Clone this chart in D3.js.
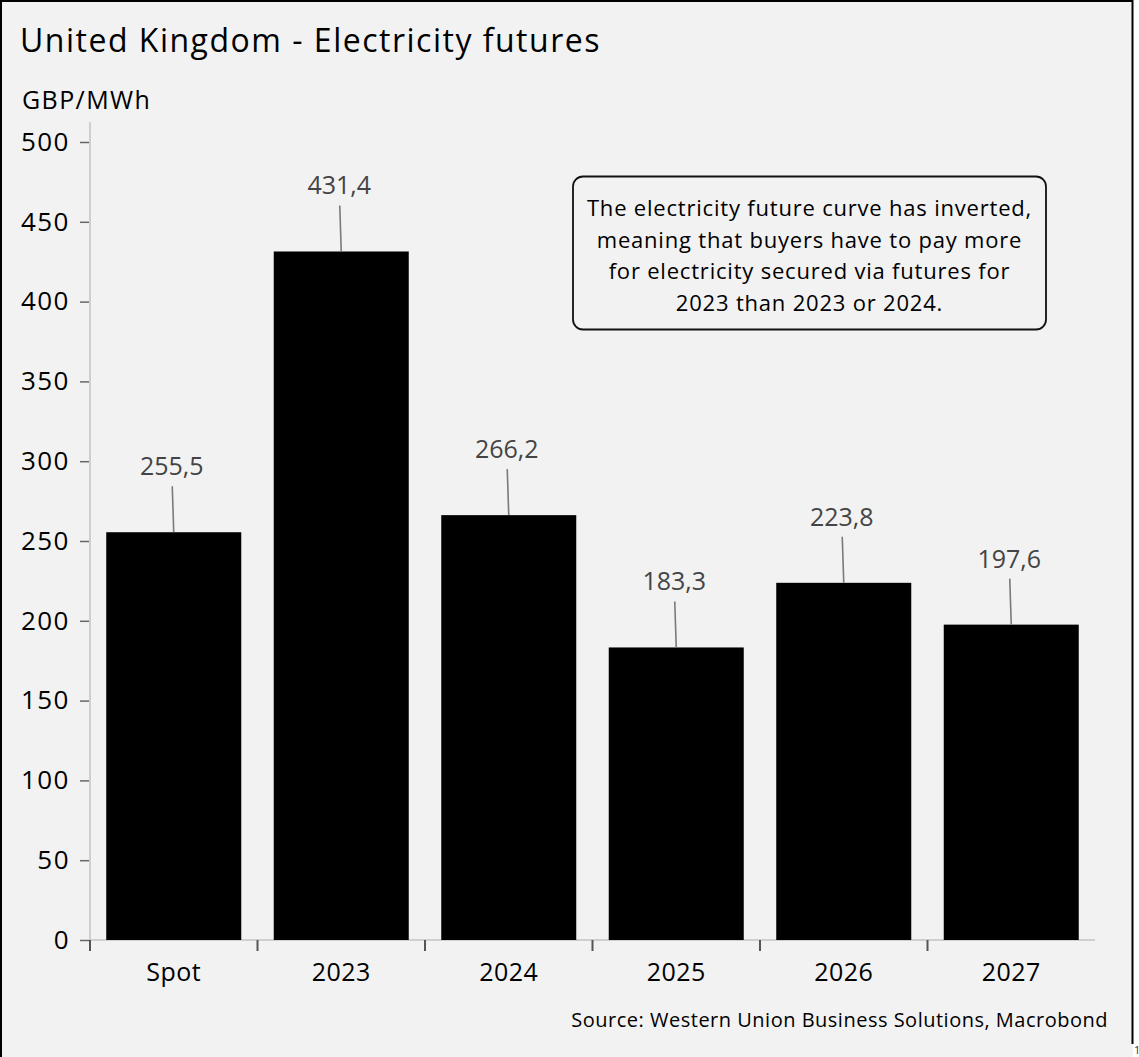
<!DOCTYPE html>
<html>
<head>
<meta charset="utf-8">
<script src="https://cdn.jsdelivr.net/npm/d3@7"></script>
<style>
  html, body { margin: 0; padding: 0; background: #ffffff; }
  svg { display: block; }
  text { font-family: "Open Sans", "Lato", sans-serif; }
</style>
</head>
<body>
<svg id="chart" width="1139" height="1057"></svg>
<script>
// Futures prices, GBP/MWh
const categories = ["Spot", "2023", "2024", "2025", "2026", "2027"];
const values = [255.5, 431.4, 266.2, 183.3, 223.8, 197.6];
const yTicks = [0, 50, 100, 150, 200, 250, 300, 350, 400, 450, 500];

const title = "United Kingdom - Electricity futures";
const unitLabel = "GBP/MWh";
const noteLines = [
  "The electricity future curve has inverted,",
  "meaning that buyers have to pay more",
  "for electricity secured via futures for",
  "2023 than 2023 or 2024."
];
const sourceText = "Source: Western Union Business Solutions, Macrobond";

const svg = d3.select("#chart");
const fmt = v => d3.format(".1f")(v).replace(".", ",");

// Panel background and frame
svg.append("rect").attr("x", 0).attr("y", 0).attr("width", 1133).attr("height", 1057).attr("fill", "#f2f2f2");
svg.append("path").attr("d", "M1,1057 V1 H1132.5 V1044")
  .attr("fill", "none").attr("stroke", "#000").attr("stroke-width", 2);
svg.append("text").attr("x", 1134).attr("y", 1054).attr("font-size", 11).attr("fill", "#333").text("1");

svg.append("text").attr("x", 20).attr("y", 52).attr("font-size", 32).attr("letter-spacing", 1.5)
  .attr("fill", "#000").text(title);
svg.append("text").attr("x", 22).attr("y", 109).attr("font-size", 25).attr("letter-spacing", 1.4)
  .attr("fill", "#000").text(unitLabel);

const x = d3.scaleBand().domain(categories).range([90, 1095]).paddingInner(0.194).paddingOuter(0.097);
const y = d3.scaleLinear().domain([0, 500]).range([940, 142]);

// Y axis
const yAxis = svg.append("g").attr("transform", "translate(90,0)")
  .call(d3.axisLeft(y).tickValues(yTicks).tickSize(10).tickPadding(10).tickFormat(d3.format("d")));
yAxis.select(".domain").remove();
yAxis.selectAll(".tick line").attr("stroke", "#666").attr("stroke-width", 1.5);
yAxis.selectAll(".tick text").attr("font-size", 26).attr("letter-spacing", 1.5)
  .attr("fill", "#000").attr("font-family", "Open Sans");
svg.append("line").attr("x1", 90).attr("x2", 90).attr("y1", 122).attr("y2", 945)
  .attr("stroke", "#cfcfcf").attr("stroke-width", 2);

// X axis baseline and boundary ticks
svg.append("line").attr("x1", 90).attr("x2", 1095).attr("y1", y(0)).attr("y2", y(0))
  .attr("stroke", "#cfcfcf").attr("stroke-width", 2);
const bounds = categories.map(c => x(c) - x.step() * x.paddingInner() / 2);
svg.selectAll(".xtick").data(bounds).join("line").attr("class", "xtick")
  .attr("x1", d => d).attr("x2", d => d).attr("y1", y(0)).attr("y2", y(0) + 11)
  .attr("stroke", "#555").attr("stroke-width", 2);
svg.selectAll(".xlab").data(categories).join("text").attr("class", "xlab")
  .attr("x", d => x(d) + x.bandwidth() / 2).attr("y", 981)
  .attr("text-anchor", "middle").attr("font-size", 25).attr("letter-spacing", 0.5)
  .attr("fill", "#000").text(d => d);

// Bars
svg.selectAll(".bar").data(values).join("rect").attr("class", "bar")
  .attr("x", (d, i) => x(categories[i])).attr("width", x.bandwidth())
  .attr("y", d => y(d)).attr("height", d => y(0) - y(d)).attr("fill", "#000");

// Value labels with leader lines
svg.selectAll(".leader").data(values).join("line").attr("class", "leader")
  .attr("x1", (d, i) => x(categories[i]) + x.bandwidth() / 2)
  .attr("x2", (d, i) => x(categories[i]) + x.bandwidth() / 2 - 1.5)
  .attr("y1", d => y(d)).attr("y2", d => y(d) - 46)
  .attr("stroke", "#7a7a7a").attr("stroke-width", 1.6);
svg.selectAll(".vlab").data(values).join("text").attr("class", "vlab")
  .attr("x", (d, i) => x(categories[i]) + x.bandwidth() / 2 - 2)
  .attr("y", d => y(d) - 57)
  .attr("text-anchor", "middle").attr("font-size", 25).attr("fill", "#444").text(d => fmt(d));

// Note box
svg.append("rect").attr("x", 573).attr("y", 176.5).attr("width", 473).attr("height", 153)
  .attr("rx", 10).attr("fill", "none").attr("stroke", "#111").attr("stroke-width", 1.8);
svg.selectAll(".note").data(noteLines).join("text").attr("class", "note")
  .attr("x", 809.5).attr("y", (d, i) => 216 + i * 31.5)
  .attr("text-anchor", "middle").attr("font-size", 22).attr("letter-spacing", 0.8)
  .attr("fill", "#000").text(d => d);

svg.append("text").attr("x", 1108).attr("y", 1027).attr("text-anchor", "end")
  .attr("font-size", 20).attr("letter-spacing", 0.5).attr("fill", "#000").text(sourceText);
</script>
</body>
</html>
